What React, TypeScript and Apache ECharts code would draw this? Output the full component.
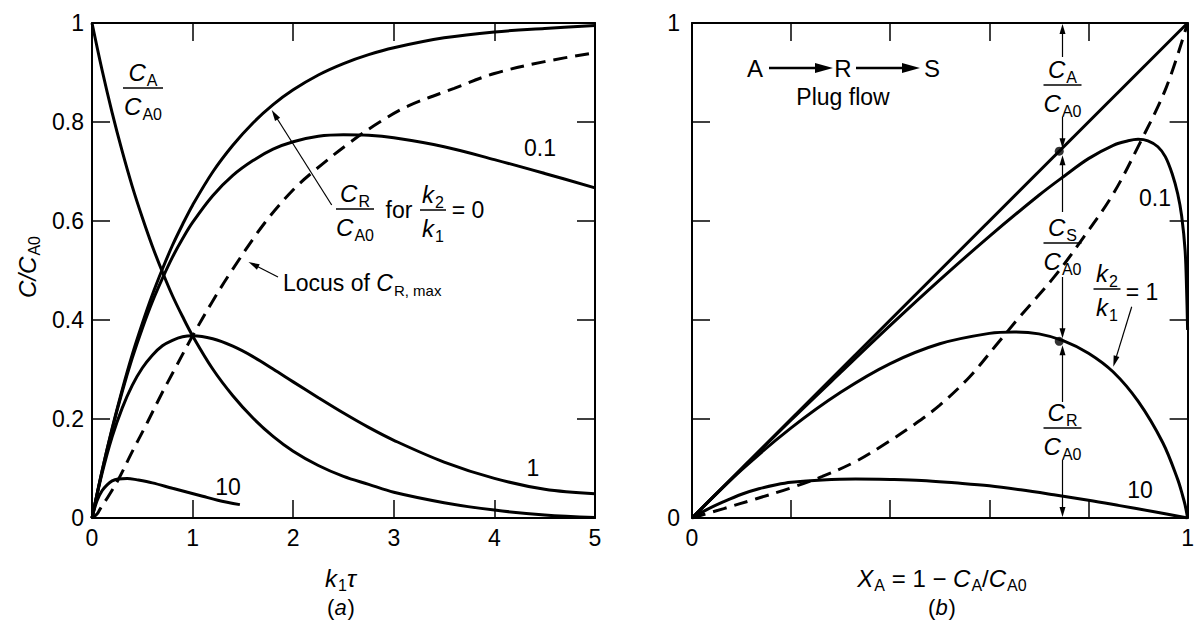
import React, { useEffect, useRef } from "react";
import * as echarts from "echarts";

const FONT = '"Liberation Sans", Arial, Helvetica, sans-serif';

// ---------- panel (a): C/CA0 vs k1*tau ----------
const xTicksA = [0, 1, 2, 3, 4, 5];
const yTicksA = ["0", "0.2", "0.4", "0.6", "0.8", "1"];

const cA_a = [
  [0, 1], [0.1, 0.905], [0.2, 0.819], [0.3, 0.741], [0.4, 0.67], [0.5, 0.607], [0.6, 0.549],
  [0.7, 0.497], [0.8, 0.449], [0.9, 0.407], [1.0, 0.368], [1.2, 0.301], [1.4, 0.247], [1.6, 0.202],
  [1.8, 0.165], [2.0, 0.135], [2.25, 0.106], [2.5, 0.084], [2.75, 0.068], [3.0, 0.052], [3.5, 0.031],
  [4.0, 0.016], [4.5, 0.006], [5.0, 0.001],
];
const cR0_a = [
  [0, 0], [0.1, 0.095], [0.2, 0.181], [0.3, 0.259], [0.4, 0.33], [0.5, 0.393], [0.6, 0.451],
  [0.7, 0.503], [0.8, 0.551], [0.9, 0.593], [1.0, 0.632], [1.2, 0.699], [1.4, 0.753], [1.6, 0.798],
  [1.8, 0.835], [2.0, 0.865], [2.25, 0.895], [2.5, 0.918], [2.75, 0.936], [3.0, 0.95], [3.5, 0.97],
  [4.0, 0.982], [4.5, 0.989], [5.0, 0.995],
];
const cR01_a = [
  [0, 0], [0.1, 0.095], [0.2, 0.179], [0.3, 0.255], [0.4, 0.323], [0.5, 0.383], [0.6, 0.437],
  [0.7, 0.484], [0.8, 0.527], [0.9, 0.564], [1.0, 0.597], [1.2, 0.651], [1.4, 0.692], [1.6, 0.722],
  [1.8, 0.745], [2.0, 0.76], [2.25, 0.771], [2.5, 0.774], [2.75, 0.773], [3.0, 0.768], [3.5, 0.75],
  [4.0, 0.724], [4.5, 0.696], [5.0, 0.667],
];
const cR1_a = [
  [0, 0], [0.1, 0.09], [0.2, 0.164], [0.3, 0.222], [0.4, 0.268], [0.5, 0.303], [0.6, 0.329],
  [0.7, 0.348], [0.8, 0.359], [0.9, 0.366], [1.0, 0.368], [1.2, 0.362], [1.4, 0.347], [1.6, 0.326],
  [1.8, 0.301], [2.0, 0.275], [2.25, 0.243], [2.5, 0.212], [2.75, 0.183], [3.0, 0.157], [3.5, 0.113],
  [4.0, 0.08], [4.5, 0.058], [5.0, 0.049],
];
const cR10_a = [
  [0, 0], [0.05, 0.035], [0.1, 0.055], [0.15, 0.067], [0.2, 0.075], [0.26, 0.079], [0.35, 0.08],
  [0.45, 0.077], [0.6, 0.071], [0.8, 0.06], [0.95, 0.052], [1.1, 0.044], [1.25, 0.036], [1.47, 0.027],
];
const locus_a = [
  [0, 0], [0.05, 0.008], [0.08, 0.018], [0.16, 0.043], [0.26, 0.077], [0.4, 0.134], [0.55, 0.193],
  [0.69, 0.25], [0.81, 0.296], [1.0, 0.368], [1.19, 0.435], [1.39, 0.5], [1.72, 0.597], [2.01, 0.665],
  [2.23, 0.705], [2.56, 0.758], [2.86, 0.8], [3.15, 0.833], [3.6, 0.868], [4.0, 0.898], [4.5, 0.922],
  [5.0, 0.94],
];

// ---------- panel (b): C/CA0 vs XA ----------
const diag_b = [[0, 0], [1, 1]];
const cR01_b = [
  [0, 0], [0.1, 0.099], [0.2, 0.198], [0.3, 0.294], [0.4, 0.389], [0.5, 0.481], [0.6, 0.569],
  [0.7, 0.652], [0.75, 0.69], [0.8, 0.726], [0.85, 0.753], [0.88, 0.762], [0.9, 0.765], [0.92, 0.762],
  [0.94, 0.75], [0.955, 0.73], [0.969, 0.695], [0.98, 0.655], [0.988, 0.61], [0.995, 0.54],
  [0.998, 0.46], [1, 0.38],
];
const cR1_b = [
  [0, 0], [0.1, 0.097], [0.2, 0.182], [0.3, 0.254], [0.4, 0.312], [0.5, 0.352], [0.6, 0.373],
  [0.65, 0.376], [0.7, 0.372], [0.75, 0.358], [0.8, 0.333], [0.85, 0.295], [0.9, 0.236],
  [0.95, 0.152], [0.98, 0.078], [0.99, 0.045], [0.995, 0.026], [1, 0],
];
const cR10_b = [
  [0, 0], [0.03, 0.017], [0.064, 0.033], [0.1, 0.048], [0.135, 0.059], [0.17, 0.067], [0.2, 0.072],
  [0.263, 0.077], [0.33, 0.079], [0.4, 0.078], [0.463, 0.076], [0.53, 0.071], [0.6, 0.065],
  [0.663, 0.057], [0.73, 0.047], [0.8, 0.036], [0.863, 0.025], [0.93, 0.013], [1, 0],
];
const locus_b = [
  [0, 0], [0.064, 0.019], [0.13, 0.039], [0.197, 0.06], [0.263, 0.084], [0.33, 0.114], [0.39, 0.15],
  [0.45, 0.19], [0.5, 0.228], [0.56, 0.285], [0.616, 0.352], [0.66, 0.405], [0.73, 0.486],
  [0.79, 0.567], [0.85, 0.655], [0.905, 0.76], [0.957, 0.87], [1, 1],
];
const markX = 0.741;
const dots_b = [[markX, 0.741], [markX, 0.357]];

// ---------- layout ----------
const GA = { left: 92, top: 23, width: 503, height: 495 };
const GB = { left: 692, top: 23, width: 500, height: 495 };
const bx = (x: number) => GB.left + x * GB.width;
const by = (y: number) => GB.top + GB.height * (1 - y);

let mctx: CanvasRenderingContext2D | null = null;
function measure(t: string, size: number, italic: boolean) {
  if (!mctx) mctx = document.createElement("canvas").getContext("2d");
  if (!mctx) return t.length * size * 0.55;
  mctx.font = `${italic ? "italic " : ""}${size}px ${FONT}`;
  return mctx.measureText(t).width;
}

type Piece = [string, string];
function label(cx: number, cy: number, pieces: Piece[], size: number, align = "center"): any[] {
  const ss = Math.round(size * 0.66);
  const items = pieces.map(([t, k]) => {
    const sub = k[0] === "s";
    const it = k.includes("i");
    const fs = sub ? ss : size;
    return { t, sub, it, fs, w: measure(t, fs, it) + (it && !sub ? 1 : 0) };
  });
  const total = items.reduce((a, b) => a + b.w, 0);
  let x = align === "center" ? cx - total / 2 : align === "right" ? cx - total : cx;
  const els: any[] = [];
  for (const it of items) {
    els.push({
      type: "text",
      x,
      y: it.sub ? cy + size * 0.33 : cy,
      silent: true,
      style: {
        text: it.t, fontSize: it.fs, fontFamily: FONT, fontStyle: it.it ? "italic" : "normal",
        fill: "#000", align: "left", verticalAlign: "middle", textAlign: "left", textVerticalAlign: "middle",
      },
    });
    x += it.w;
  }
  return els;
}
function frac(cx: number, barY: number, num: Piece[], den: Piece[], size: number, barW: number): any[] {
  return [
    ...label(cx, barY - size * 0.66, num, size),
    ...label(cx, barY + size * 0.76, den, size),
    { type: "line", silent: true, shape: { x1: cx - barW / 2, y1: barY, x2: cx + barW / 2, y2: barY }, style: { stroke: "#000", lineWidth: 1.5 } },
  ];
}
function arrow(x1: number, y1: number, x2: number, y2: number, lw = 1.2, hl = 11, hw = 6): any[] {
  const dx = x2 - x1, dy = y2 - y1, L = Math.hypot(dx, dy);
  const ux = dx / L, uy = dy / L;
  const ex = x2 - ux * hl, ey = y2 - uy * hl;
  const nx = -uy, ny = ux;
  return [
    { type: "line", silent: true, shape: { x1, y1, x2: ex + ux, y2: ey + uy }, style: { stroke: "#000", lineWidth: lw } },
    { type: "polygon", silent: true, shape: { points: [[x2, y2], [ex + (nx * hw) / 2, ey + (ny * hw) / 2], [ex - (nx * hw) / 2, ey - (ny * hw) / 2]] }, style: { fill: "#000" } },
  ];
}

const CA: Piece[] = [["C", "i"], ["A", "s"]];
const CA0: Piece[] = [["C", "i"], ["A0", "s"]];
const CR: Piece[] = [["C", "i"], ["R", "s"]];
const CS: Piece[] = [["C", "i"], ["S", "s"]];
const K2: Piece[] = [["k", "i"], ["2", "s"]];
const K1: Piece[] = [["k", "i"], ["1", "s"]];

function buildGraphics(): any[] {
  const d1 = by(dots_b[0][1]);
  const d2 = by(dots_b[1][1]);
  const mx = bx(markX);
  return [
    // panel (a)
    ...frac(143, 88, CA, CA0, 24, 40),
    ...frac(355, 209, CR, CA0, 24, 38),
    ...label(399, 210, [["for", "r"]], 23),
    ...frac(433, 210, K2, K1, 24, 26),
    ...label(468, 210, [["= 0", "r"]], 23),
    ...arrow(331.7, 205, 271.7, 110),
    ...label(283, 283, [["Locus of ", "r"], ["C", "i"], ["R, max", "s"]], 23, "left"),
    ...arrow(278, 277, 248.5, 262),
    ...label(540, 148, [["0.1", "r"]], 23),
    ...label(533, 468, [["1", "r"]], 23),
    ...label(228, 487, [["10", "r"]], 23),
    { type: "group", x: 27, y: 267, rotation: Math.PI / 2, children: label(0, 0, [["C/C", "i"], ["A0", "s"]], 24) },
    ...label(341, 578, [["k", "i"], ["1", "s"], ["τ", "i"]], 24),
    ...label(341, 607, [["(", "r"], ["a", "i"], [")", "r"]], 22),
    // panel (b)
    ...label(755, 68, [["A", "r"]], 24),
    ...arrow(769, 68, 833, 68, 2.5, 18, 10),
    ...label(843, 68, [["R", "r"]], 24),
    ...arrow(856, 68, 920, 68, 2.5, 18, 10),
    ...label(932, 68, [["S", "r"]], 24),
    ...label(843, 97, [["Plug flow", "r"]], 23),
    ...frac(mx, 85, CA, CA0, 24, 38),
    ...arrow(mx, 57, mx, 24, 1.2, 10, 6),
    ...arrow(mx, 117, mx, d1 - 3, 1.2, 10, 6),
    ...arrow(mx, 212, mx, d1 + 4, 1.2, 10, 6),
    ...frac(mx, 243, CS, CA0, 24, 38),
    ...arrow(mx, 277, mx, d2 - 3, 1.2, 10, 6),
    ...arrow(mx, 402, mx, d2 + 4, 1.2, 10, 6),
    ...frac(mx, 428, CR, CA0, 24, 38),
    ...arrow(mx, 460, mx, 517, 1.2, 10, 6),
    ...label(1155, 198, [["0.1", "r"]], 23),
    ...frac(1107, 289, K2, K1, 24, 27),
    ...label(1142, 292, [["= 1", "r"]], 23),
    ...arrow(1131.7, 306.7, 1113.3, 366.7),
    ...label(1140, 490, [["10", "r"]], 23),
    ...label(942, 578, [["X", "i"], ["A", "s"], [" = 1 − ", "r"], ["C", "i"], ["A", "s"], ["/", "r"], ["C", "i"], ["A0", "s"]], 24),
    ...label(942, 607, [["(", "r"], ["b", "i"], [")", "r"]], 22),
  ];
}

const axisCommon = {
  type: "value" as const,
  axisLine: { onZero: false, lineStyle: { color: "#000", width: 2 } },
  axisTick: { inside: true, length: 18, lineStyle: { color: "#000", width: 1.5 } },
  splitLine: { show: false },
};
const lbl = { color: "#000", fontSize: 23, fontFamily: FONT, showMinLabel: true, showMaxLabel: true };

function lineSeries(data: number[][], gi: number, dashed = false, smooth: number | boolean = 0.35) {
  return {
    type: "line",
    xAxisIndex: gi * 2,
    yAxisIndex: gi * 2,
    data,
    symbol: "none",
    showSymbol: false,
    smooth,
    silent: true,
    lineStyle: { color: "#000", width: 3, type: dashed ? [14, 8] : "solid", cap: "butt" },
  };
}

export default function App() {
  const ref = useRef<HTMLDivElement>(null);
  useEffect(() => {
    if (!ref.current) return;
    const chart = echarts.init(ref.current, undefined, { renderer: "svg" });
    const fmtA = (v: number) => yTicksA[Math.round(v / 0.2)] ?? "";
    const fmtB = (v: number) => (Math.abs(v) < 1e-6 ? "0" : Math.abs(v - 1) < 1e-6 ? "1" : "");
    const option: any = {
      animation: false,
      backgroundColor: "#fff",
      grid: [
        { left: GA.left, top: GA.top, width: GA.width, height: GA.height },
        { left: GB.left, top: GB.top, width: GB.width, height: GB.height },
      ],
      xAxis: [
        { ...axisCommon, gridIndex: 0, position: "bottom", min: xTicksA[0], max: xTicksA[xTicksA.length - 1], interval: 1, axisLabel: { ...lbl, margin: 8 } },
        { ...axisCommon, gridIndex: 0, position: "top", min: 0, max: 5, interval: 1, axisLabel: { show: false } },
        { ...axisCommon, gridIndex: 1, position: "bottom", min: 0, max: 1, interval: 0.2, axisLabel: { ...lbl, margin: 8, formatter: fmtB } },
        { ...axisCommon, gridIndex: 1, position: "top", min: 0, max: 1, interval: 0.2, axisLabel: { show: false } },
      ],
      yAxis: [
        { ...axisCommon, gridIndex: 0, position: "left", min: 0, max: 1, interval: 0.2, axisLabel: { ...lbl, margin: 8, formatter: fmtA } },
        { ...axisCommon, gridIndex: 0, position: "right", min: 0, max: 1, interval: 0.2, axisLabel: { show: false } },
        { ...axisCommon, gridIndex: 1, position: "left", min: 0, max: 1, interval: 0.2, axisLabel: { ...lbl, margin: 12, formatter: fmtB } },
        { ...axisCommon, gridIndex: 1, position: "right", min: 0, max: 1, interval: 0.2, axisLabel: { show: false } },
      ],
      series: [
        lineSeries(cA_a, 0),
        lineSeries(cR0_a, 0),
        lineSeries(cR01_a, 0),
        lineSeries(cR1_a, 0),
        lineSeries(cR10_a, 0),
        lineSeries(locus_a, 0, true),
        lineSeries(diag_b, 1, false, false),
        lineSeries(cR01_b, 1),
        lineSeries(cR1_b, 1),
        lineSeries(cR10_b, 1),
        lineSeries(locus_b, 1, true),
        {
          type: "scatter", xAxisIndex: 2, yAxisIndex: 2, data: dots_b, symbol: "circle", symbolSize: 9,
          itemStyle: { color: "#000" }, silent: true, z: 5,
        },
      ],
      graphic: buildGraphics(),
    };
    chart.setOption(option);
    return () => chart.dispose();
  }, []);
  return <div ref={ref} style={{ position: "absolute", left: 0, top: 0, width: 1197, height: 621, background: "#fff" }} />;
}
